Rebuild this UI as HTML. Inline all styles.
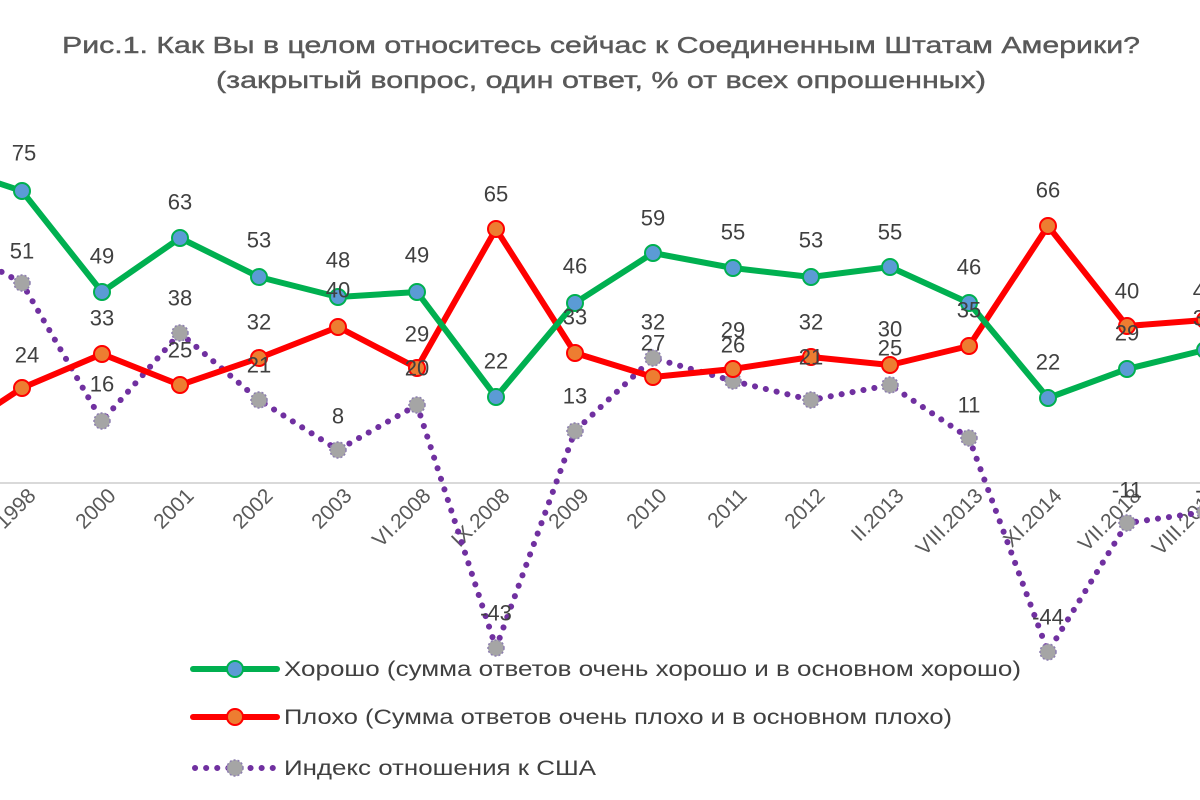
<!DOCTYPE html>
<html><head><meta charset="utf-8"><style>
body{margin:0;background:#fff;}
svg{display:block;font-family:"Liberation Sans",sans-serif;}
</style></head><body>
<svg width="1200" height="800" viewBox="0 0 1200 800" xmlns="http://www.w3.org/2000/svg">
<text x="601" y="53" text-anchor="middle" font-size="23" fill="#595959" stroke="#595959" stroke-width="0.4" textLength="1078" lengthAdjust="spacingAndGlyphs">Рис.1. Как Вы в целом относитесь сейчас к Соединенным Штатам Америки?</text>
<text x="601" y="88" text-anchor="middle" font-size="23" fill="#595959" stroke="#595959" stroke-width="0.4" textLength="770" lengthAdjust="spacingAndGlyphs">(закрытый вопрос, один ответ, % от всех опрошенных)</text>
<line x1="0" y1="483" x2="1200" y2="483" stroke="#d9d9d9" stroke-width="2"/>
<g font-size="21" fill="#595959" text-anchor="end">
<text transform="translate(37,497) rotate(-45)">1998</text>
<text transform="translate(117,497) rotate(-45)">2000</text>
<text transform="translate(195,497) rotate(-45)">2001</text>
<text transform="translate(274,497) rotate(-45)">2002</text>
<text transform="translate(353,497) rotate(-45)">2003</text>
<text transform="translate(432,497) rotate(-45)">VI.2008</text>
<text transform="translate(511,497) rotate(-45)">IX.2008</text>
<text transform="translate(590,497) rotate(-45)">2009</text>
<text transform="translate(668,497) rotate(-45)">2010</text>
<text transform="translate(748,497) rotate(-45)">2011</text>
<text transform="translate(826,497) rotate(-45)">2012</text>
<text transform="translate(905,497) rotate(-45)">II.2013</text>
<text transform="translate(984,497) rotate(-45)">VIII.2013</text>
<text transform="translate(1063,497) rotate(-45)">XI.2014</text>
<text transform="translate(1142,497) rotate(-45)">VII.2018</text>
<text transform="translate(1220,497) rotate(-45)">VIII.2018</text>
</g>
<!-- purple -->
<polyline fill="none" stroke="#7030a0" stroke-width="6" stroke-dasharray="0.1 11" stroke-linecap="round" points="-57,240 22,283 102,421 180,333 259,400 338,450 417,405 496,648 575,431 653,358 733,381 811,400 890,385 969,438 1048,652 1127,523 1205,512"/>
<g fill="#a5a5a5" stroke="#8d7fb0" stroke-width="1.5" stroke-dasharray="2 2">
<circle cx="22" cy="283" r="8"/><circle cx="102" cy="421" r="8"/><circle cx="180" cy="333" r="8"/><circle cx="259" cy="400" r="8"/><circle cx="338" cy="450" r="8"/><circle cx="417" cy="405" r="8"/><circle cx="496" cy="648" r="8"/><circle cx="575" cy="431" r="8"/><circle cx="653" cy="358" r="8"/><circle cx="733" cy="381" r="8"/><circle cx="811" cy="400" r="8"/><circle cx="890" cy="385" r="8"/><circle cx="969" cy="438" r="8"/><circle cx="1048" cy="652" r="8"/><circle cx="1127" cy="523" r="8"/><circle cx="1205" cy="512" r="8"/>
</g>
<!-- red -->
<polyline fill="none" stroke="#ff0000" stroke-width="6" stroke-linejoin="round" points="-57,440 22,388 102,354 180,385 259,358 338,327 417,368 496,229 575,353 653,377 733,369 811,357 890,365 969,346 1048,226 1127,326 1205,320"/>
<g fill="#ed7d31" stroke="#ff0000" stroke-width="2">
<circle cx="22" cy="388" r="8"/><circle cx="102" cy="354" r="8"/><circle cx="180" cy="385" r="8"/><circle cx="259" cy="358" r="8"/><circle cx="338" cy="327" r="8"/><circle cx="417" cy="368" r="8"/><circle cx="496" cy="229" r="8"/><circle cx="575" cy="353" r="8"/><circle cx="653" cy="377" r="8"/><circle cx="733" cy="369" r="8"/><circle cx="811" cy="357" r="8"/><circle cx="890" cy="365" r="8"/><circle cx="969" cy="346" r="8"/><circle cx="1048" cy="226" r="8"/><circle cx="1127" cy="326" r="8"/><circle cx="1205" cy="320" r="8"/>
</g>
<!-- green -->
<polyline fill="none" stroke="#00b050" stroke-width="6" stroke-linejoin="round" points="-57,165 22,191 102,292 180,238 259,277 338,297 417,292 496,397 575,303 653,253 733,268 811,277 890,267 969,303 1048,398 1127,369 1205,350"/>
<g fill="#5b9bd5" stroke="#00b050" stroke-width="2">
<circle cx="22" cy="191" r="8"/><circle cx="102" cy="292" r="8"/><circle cx="180" cy="238" r="8"/><circle cx="259" cy="277" r="8"/><circle cx="338" cy="297" r="8"/><circle cx="417" cy="292" r="8"/><circle cx="496" cy="397" r="8"/><circle cx="575" cy="303" r="8"/><circle cx="653" cy="253" r="8"/><circle cx="733" cy="268" r="8"/><circle cx="811" cy="277" r="8"/><circle cx="890" cy="267" r="8"/><circle cx="969" cy="303" r="8"/><circle cx="1048" cy="398" r="8"/><circle cx="1127" cy="369" r="8"/><circle cx="1205" cy="350" r="8"/>
</g>
<!-- labels -->
<g font-size="22" fill="#404040" text-anchor="middle" dominant-baseline="central">
<text x="24" y="153">75</text><text x="27" y="355">24</text><text x="22" y="251">51</text>
<text x="102" y="256">49</text><text x="102" y="318">33</text><text x="102" y="384">16</text>
<text x="180" y="202">63</text><text x="180" y="298">38</text><text x="180" y="350">25</text>
<text x="259" y="240">53</text><text x="259" y="322">32</text><text x="259" y="365">21</text>
<text x="338" y="260">48</text><text x="338" y="290">40</text><text x="338" y="416">8</text>
<text x="417" y="255">49</text><text x="417" y="334">29</text><text x="417" y="368">20</text>
<text x="496" y="194">65</text><text x="496" y="361">22</text><text x="496" y="613">-43</text>
<text x="575" y="266">46</text><text x="575" y="317">33</text><text x="575" y="396">13</text>
<text x="653" y="218">59</text><text x="653" y="322">32</text><text x="653" y="343">27</text>
<text x="733" y="232">55</text><text x="733" y="330">29</text><text x="733" y="345">26</text>
<text x="811" y="240">53</text><text x="811" y="322">32</text><text x="811" y="357">21</text>
<text x="890" y="232">55</text><text x="890" y="329">30</text><text x="890" y="348">25</text>
<text x="969" y="267">46</text><text x="969" y="310">35</text><text x="969" y="405">11</text>
<text x="1048" y="190">66</text><text x="1048" y="362">22</text><text x="1048" y="617">-44</text>
<text x="1127" y="291">40</text><text x="1127" y="333">29</text><text x="1127" y="490">-11</text>
<text x="1205" y="291">40</text><text x="1205" y="318">33</text><text x="1205" y="490">-7</text>
</g>
<!-- legend -->
<line x1="193" y1="669" x2="277" y2="669" stroke="#00b050" stroke-width="6" stroke-linecap="round"/>
<circle cx="235" cy="669" r="8" fill="#5b9bd5" stroke="#00b050" stroke-width="2"/>
<line x1="193" y1="717" x2="277" y2="717" stroke="#ff0000" stroke-width="6" stroke-linecap="round"/>
<circle cx="235" cy="717" r="8" fill="#ed7d31" stroke="#ff0000" stroke-width="2"/>
<line x1="195" y1="768" x2="277" y2="768" stroke="#7030a0" stroke-width="6" stroke-dasharray="0.1 11" stroke-linecap="round"/>
<circle cx="235" cy="768" r="8" fill="#a5a5a5" stroke="#8d7fb0" stroke-width="1.5" stroke-dasharray="2 2"/>
<g font-size="21" fill="#404040">
<text x="284" y="676" textLength="737" lengthAdjust="spacingAndGlyphs">Хорошо (сумма ответов очень хорошо и в основном хорошо)</text>
<text x="284" y="724" textLength="668" lengthAdjust="spacingAndGlyphs">Плохо (Сумма ответов очень плохо и в основном плохо)</text>
<text x="284" y="775" textLength="312" lengthAdjust="spacingAndGlyphs">Индекс отношения к США</text>
</g>
</svg>
</body></html>
